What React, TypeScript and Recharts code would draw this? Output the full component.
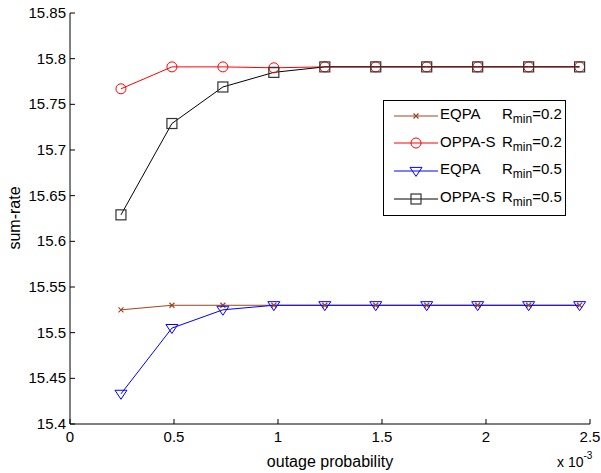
import React from 'react';
import { LineChart, Line, XAxis, YAxis, Legend } from 'recharts';

const outageProb = [0.245, 0.49, 0.735, 0.98, 1.225, 1.47, 1.715, 1.96, 2.205, 2.45];
const eqpa02 = [15.525, 15.53, 15.53, 15.53, 15.53, 15.53, 15.53, 15.53, 15.53, 15.53];
const oppa02 = [15.767, 15.791, 15.791, 15.79, 15.791, 15.791, 15.791, 15.791, 15.791, 15.791];
const eqpa05 = [15.433, 15.505, 15.525, 15.53, 15.53, 15.53, 15.53, 15.53, 15.53, 15.53];
const oppa05 = [15.629, 15.729, 15.769, 15.785, 15.791, 15.791, 15.791, 15.791, 15.791, 15.791];

const xTicks = [0, 0.5, 1, 1.5, 2, 2.5];
const yTicks = [15.4, 15.45, 15.5, 15.55, 15.6, 15.65, 15.7, 15.75, 15.8, 15.85];

const data = outageProb.map((x, i) => ({
  x,
  eqpa02: eqpa02[i],
  oppa02: oppa02[i],
  eqpa05: eqpa05[i],
  oppa05: oppa05[i],
}));

const FONT = "'Liberation Sans', Arial, Helvetica, sans-serif";
const TICK_LEN = 5;

const fmt = (v: number) => String(Number(v.toFixed(2)));

// matlab-style ticks pointing into the plot box
const BottomTick = (props: any) => {
  const { x, y, payload } = props;
  return (
    <g>
      <line x1={x} y1={y} x2={x} y2={y - TICK_LEN} stroke="#000" />
      <text x={x} y={y + 18} textAnchor="middle" fontSize={15} fontFamily={FONT} fill="#000">
        {fmt(payload.value)}
      </text>
    </g>
  );
};

const TopTick = (props: any) => {
  const { x, y } = props;
  return <line x1={x} y1={y} x2={x} y2={y + TICK_LEN} stroke="#000" />;
};

const LeftTick = (props: any) => {
  const { x, y, payload } = props;
  return (
    <g>
      <line x1={x} y1={y} x2={x + TICK_LEN} y2={y} stroke="#000" />
      <text x={x - 4} y={y + 5} textAnchor="end" fontSize={15} fontFamily={FONT} fill="#000">
        {fmt(payload.value)}
      </text>
    </g>
  );
};

const RightTick = (props: any) => {
  const { x, y } = props;
  return <line x1={x} y1={y} x2={x - TICK_LEN} y2={y} stroke="#000" />;
};

const CrossDot = (props: any) => {
  const { cx, cy, stroke } = props;
  const s = 2.5;
  return (
    <g stroke={stroke} strokeWidth={1.2}>
      <line x1={cx - s} y1={cy - s} x2={cx + s} y2={cy + s} />
      <line x1={cx - s} y1={cy + s} x2={cx + s} y2={cy - s} />
    </g>
  );
};

const CircleDot = (props: any) => {
  const { cx, cy, stroke } = props;
  return <circle cx={cx} cy={cy} r={5} fill="none" stroke={stroke} strokeWidth={1} />;
};

const TriangleDot = (props: any) => {
  const { cx, cy, stroke } = props;
  const s = 6;
  return (
    <polygon
      points={`${cx - s},${cy - s * 0.6} ${cx + s},${cy - s * 0.6} ${cx},${cy + s * 0.9}`}
      fill="none"
      stroke={stroke}
      strokeWidth={1}
    />
  );
};

const SquareDot = (props: any) => {
  const { cx, cy } = props;
  const s = 5;
  return <rect x={cx - s} y={cy - s} width={2 * s} height={2 * s} fill="none" stroke="#333" strokeWidth={1.2} />;
};

const seriesInfo = [
  { key: 'eqpa02', name: 'EQPA', rmin: '0.2', color: '#a0461e', Dot: CrossDot },
  { key: 'oppa02', name: 'OPPA-S', rmin: '0.2', color: '#ff0000', Dot: CircleDot },
  { key: 'eqpa05', name: 'EQPA', rmin: '0.5', color: '#0000ff', Dot: TriangleDot },
  { key: 'oppa05', name: 'OPPA-S', rmin: '0.5', color: '#000000', Dot: SquareDot },
];

const renderLegend = () => (
  <div
    style={{
      border: '1px solid #000',
      background: '#fff',
      width: 183,
      height: 116,
      boxSizing: 'border-box',
      padding: '1px 0 0 0',
      fontFamily: FONT,
      fontSize: 15,
      color: '#000',
    }}
  >
    {seriesInfo.map((s) => {
      const Dot = s.Dot;
      return (
        <div key={s.key} style={{ display: 'flex', alignItems: 'center', height: 27.6, position: 'relative' }}>
          <svg width={56} height={20} style={{ display: 'block' }}>
            <line x1={10} y1={10} x2={54} y2={10} stroke={s.color} strokeWidth={1} />
            <Dot cx={32} cy={10} stroke={s.color} />
          </svg>
          <span style={{ position: 'absolute', left: 56, top: 3 }}>{s.name}</span>
          <span style={{ position: 'absolute', left: 118, top: 3 }}>
            R<sub style={{ fontSize: 12 }}>min</sub>={s.rmin}
          </span>
        </div>
      );
    })}
  </div>
);

const App: React.FC = () => (
  <div style={{ position: 'absolute', left: 0, top: 0, width: 601, height: 473, background: '#fff' }}>
    <LineChart width={601} height={473} data={data} margin={{ top: 13, right: 11, bottom: 0, left: 0 }}>
      <XAxis
        xAxisId="b"
        dataKey="x"
        type="number"
        domain={[0, 2.5]}
        ticks={xTicks}
        height={49}
        tickSize={0}
        tickMargin={0}
        tick={<BottomTick />}
        stroke="#000"
        allowDataOverflow
      />
      <XAxis
        xAxisId="t"
        dataKey="x"
        type="number"
        orientation="top"
        domain={[0, 2.5]}
        ticks={xTicks}
        height={0}
        tickSize={0}
        tickMargin={0}
        tick={<TopTick />}
        stroke="#000"
      />
      <YAxis
        yAxisId="l"
        type="number"
        domain={[15.4, 15.85]}
        ticks={yTicks}
        width={70}
        tickSize={0}
        tickMargin={0}
        tick={<LeftTick />}
        stroke="#000"
        allowDataOverflow
      />
      <YAxis
        yAxisId="r"
        type="number"
        orientation="right"
        domain={[15.4, 15.85]}
        ticks={yTicks}
        width={0}
        tickSize={0}
        tickMargin={0}
        tick={<RightTick />}
        stroke="#000"
      />
      <Legend
        layout="vertical"
        align="center"
        verticalAlign="middle"
        content={renderLegend}
        wrapperStyle={{ left: 383, top: 100, width: 183 }}
      />
      {seriesInfo.map((s) => (
        <Line
          key={s.key}
          xAxisId="b"
          yAxisId="l"
          type="linear"
          dataKey={s.key}
          name={s.name}
          stroke={s.color}
          strokeWidth={1}
          dot={<s.Dot />}
          activeDot={false}
          isAnimationActive={false}
        />
      ))}
      <text x={20} y={218} transform="rotate(-90 20 218)" textAnchor="middle" fontSize={16} fontFamily={FONT} fill="#000">
        sum-rate
      </text>
      <text x={330} y={467} textAnchor="middle" fontSize={16} fontFamily={FONT} fill="#000">
        outage probability
      </text>
      <text x={557} y={467} fontSize={14} fontFamily={FONT} fill="#000">
        x 10
        <tspan dy={-8} fontSize={10}>-3</tspan>
      </text>
    </LineChart>
  </div>
);

export default App;
